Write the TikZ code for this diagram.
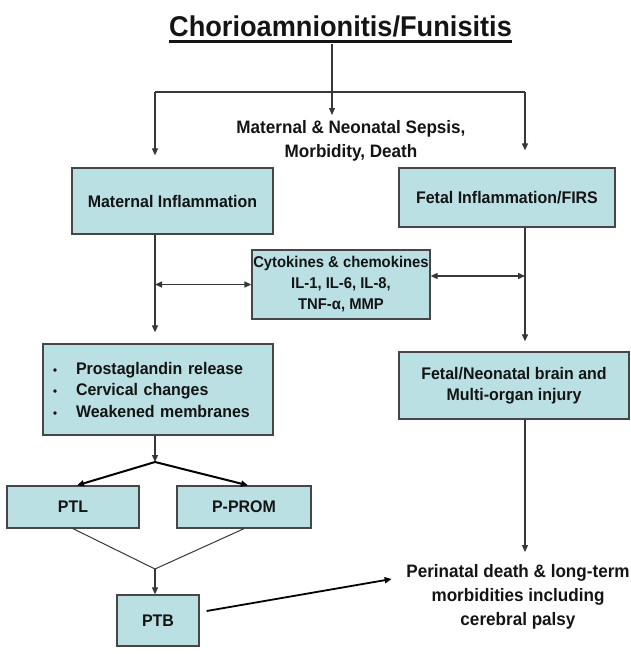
\documentclass[tikz,border=0pt]{standalone}
\usepackage{fontspec}
\setmainfont{Liberation Sans}[FakeStretch=0.95]
\usetikzlibrary{arrows.meta,calc}
\definecolor{boxfill}{RGB}{186,224,228}
\definecolor{boxline}{RGB}{70,70,70}
\definecolor{linkgray}{RGB}{55,55,55}
\definecolor{ink}{RGB}{20,20,20}
\newcommand{\titleline}[1]{\setbox0\hbox{#1}\rlap{\rule[-6.8pt]{\wd0}{3pt}}\box0}
\newcommand{\itemdot}{\makebox[23pt][l]{\fontsize{12}{12}\selectfont\textbullet}}

\begin{document}
\begin{tikzpicture}[x=1pt,y=-1pt,
    every node/.style={text=ink},
    box/.style={draw=boxline,fill=boxfill,line width=1.3pt,inner sep=0pt,align=center,font=\fontsize{16.8}{21.5}\selectfont\bfseries},
    lbl/.style={inner xsep=1.5pt,inner ysep=5pt,align=center,font=\fontsize{18}{24}\selectfont\bfseries},
    link/.style={linkgray,line width=1.2pt},
    arr/.style={link,-{Triangle[length=7pt,width=6pt]}},
    twoway/.style={link,line width=1.5pt,{Triangle[length=7pt,width=6pt]}-{Triangle[length=7pt,width=6pt]}}]
  \useasboundingbox (0,0) rectangle (630,654);

  \node[font=\fontsize{28.6}{30}\selectfont\bfseries,inner sep=1pt,anchor=base] (title) at (340.5,36) {\titleline{Chorioamnionitis/Funisitis}};
  \node[lbl,anchor=north] (sepsis) at (351,115) {Maternal \& Neonatal Sepsis,\\Morbidity, Death};
  \node[box,minimum width=201pt,minimum height=66pt] (matinf) at (172.5,201) {Maternal Inflammation};
  \node[box,minimum width=216pt,minimum height=59pt] (fetinf) at (507,197.5) {Fetal Inflammation/FIRS};
  \node[box,font=\fontsize{15.6}{21}\selectfont\bfseries,minimum width=178pt,minimum height=69pt] (cyto) at (341,284.5) {Cytokines \& chemokines\\IL-1, IL-6, IL-8,\\TNF-α, MMP};
  \node[box,align=left,text width=210pt,inner xsep=10pt,minimum height=91pt] (prost) at (158,389.5) {\itemdot Prostaglandin release\\\itemdot Cervical changes\\\itemdot Weakened membranes};
  \node[box,minimum width=230pt,minimum height=67pt] (injury) at (514,385.5) {Fetal/Neonatal brain and\\Multi-organ injury};
  \node[box,minimum width=132pt,minimum height=42pt] (ptl) at (73,507) {PTL};
  \node[box,minimum width=134pt,minimum height=42pt] (prom) at (244,507) {P-PROM};
  \node[box,minimum width=82pt,minimum height=51pt] (ptb) at (158,620.5) {PTB};
  \node[lbl,anchor=north] (outcome) at (518,559) {Perinatal death \& long-term\\morbidities including\\cerebral palsy};

  \coordinate (split) at (332,92);
  \coordinate (lcol) at (155,92);
  \coordinate (rcol) at (525,92);
  \coordinate (fork) at (155,462);
  \coordinate (join) at (155,569);
  \coordinate (cyr) at ([yshift=8.5pt]cyto.east);

  \draw[arr] (title.south -| split) -- (sepsis.north -| split);
  \draw[link] (lcol) -- (rcol);
  \draw[arr,shorten >=12pt] (lcol) -- (lcol |- matinf.north);
  \draw[arr,shorten >=17pt] (rcol) -- (rcol |- fetinf.north);

  \draw[arr,shorten >=11pt] (lcol |- matinf.south) -- (lcol |- prost.north);
  \draw[twoway] (lcol |- cyto.west) -- (cyto.west);
  \draw[twoway] (cyr) -- (rcol |- cyr);
  \draw[arr,shorten >=10pt] (rcol |- fetinf.south) -- (rcol |- injury.north);
  \draw[arr,shorten >=7pt] (rcol |- injury.south) -- (rcol |- outcome.north);

  \draw[arr] (lcol |- prost.south) -- (fork);
  \draw[arr,black,line width=2pt] (fork) -- ([xshift=4pt]ptl.north);
  \draw[arr,black,line width=2pt] (fork) -- ([xshift=4pt]prom.north);
  \draw[link,line width=1pt] (ptl.south) -- (join) -- (prom.south);
  \draw[arr] (join) -- (join |- ptb.north);
  \draw[arr,black,line width=1.8pt] ([shift={(7pt,9.5pt)}]ptb.east) -- ([shift={(-13pt,-20pt)}]outcome.north west);
\end{tikzpicture}
\end{document}
